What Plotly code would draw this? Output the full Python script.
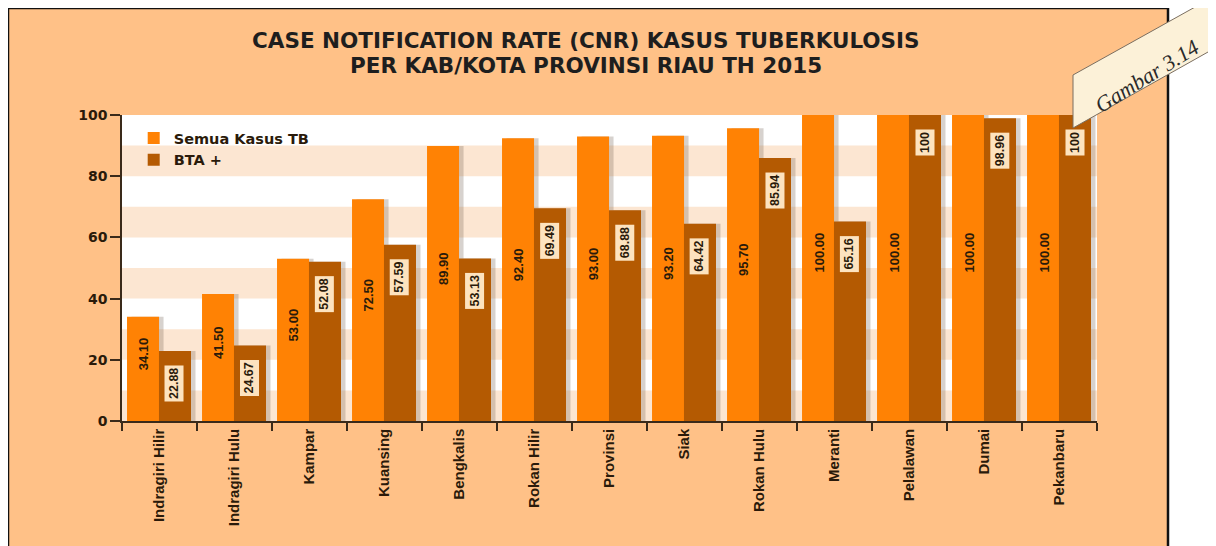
import plotly.graph_objects as go

categories = ["Indragiri Hilir", "Indragiri Hulu", "Kampar", "Kuansing", "Bengkalis",
              "Rokan Hilir", "Provinsi", "Siak", "Rokan Hulu", "Meranti",
              "Pelalawan", "Dumai", "Pekanbaru"]
semua = [34.10, 41.50, 53.00, 72.50, 89.90, 92.40, 93.00, 93.20, 95.70, 100.00, 100.00, 100.00, 100.00]
bta = [22.88, 24.67, 52.08, 57.59, 53.13, 69.49, 68.88, 64.42, 85.94, 65.16, 100, 98.96, 100]
semua_labels = ["%.2f" % v for v in semua]
bta_labels = ["22.88", "24.67", "52.08", "57.59", "53.13", "69.49", "68.88",
              "64.42", "85.94", "65.16", "100", "98.96", "100"]
y_ticks = [0, 20, 40, 60, 80, 100]
bands = [(0, 10), (20, 30), (40, 50), (60, 70), (80, 90)]
title_lines = ["CASE NOTIFICATION RATE (CNR) KASUS TUBERKULOSIS",
               "PER KAB/KOTA PROVINSI RIAU TH 2015"]

ORANGE = "#FF8204"
BROWN = "#B45A02"
PEACH = "#FFC187"
BAND = "#FCE6D2"
DARK = "#2A1A0A"
SHADOW = "rgba(110,95,80,0.28)"
FONT = "Liberation Sans"
WIDE = "DejaVu Sans"

# figure geometry (figure sits 8px inside the page)
W, H = 1208, 538
L, T = 114, 107
PW, PH = 975, 306
R = W - L - PW
B = H - T - PH


def px(rx):
    return (rx - 122) / PW


def py(ry):
    return (421 - ry) / PH


BW = 0.427
fig = go.Figure()
# soft shadows behind bars
fig.add_trace(go.Bar(x=categories, y=semua, offset=-0.433 + 0.06, width=BW,
                     marker_color=SHADOW, marker_line_width=0, showlegend=False,
                     hoverinfo="skip"))
fig.add_trace(go.Bar(x=categories, y=bta, offset=-0.007 + 0.06, width=BW,
                     marker_color=SHADOW, marker_line_width=0, showlegend=False,
                     hoverinfo="skip"))
fig.add_trace(go.Bar(name="Semua Kasus TB", x=categories, y=semua, offset=-0.433, width=BW,
                     marker_color=ORANGE, marker_line_width=0))
fig.add_trace(go.Bar(name="BTA +", x=categories, y=bta, offset=-0.007, width=BW,
                     marker_color=BROWN, marker_line_width=0))

shapes = []
shapes.append(dict(type="rect", xref="paper", yref="paper",
                   x0=px(8), x1=px(1168), y0=py(570), y1=py(8),
                   fillcolor=PEACH, line=dict(color="#111111", width=2.5), layer="below"))
shapes.append(dict(type="rect", xref="paper", yref="y", x0=0, x1=1, y0=0, y1=100,
                   fillcolor="white", line=dict(width=0), layer="below"))
for b0, b1 in bands:
    shapes.append(dict(type="rect", xref="paper", yref="y", x0=0, x1=1, y0=b0, y1=b1,
                       fillcolor=BAND, line=dict(width=0), layer="below"))
# "Gambar" ribbon
shapes.append(dict(type="path", xref="paper", yref="paper",
                   path="M %f %f L %f %f L %f %f L %f %f Z" % (
                       px(1073), py(75), px(1073), py(128),
                       px(1240), py(34), px(1240), py(-18)),
                   fillcolor="#FCF1D8", line=dict(color="#7A6E60", width=1), layer="above"))

annotations = []
for c, v, t in zip(categories, semua, semua_labels):
    annotations.append(dict(
        x=c, y=v / 2, xref="x", yref="y", text="<b>%s</b>" % t, showarrow=False,
        textangle=-90, xanchor="center", yanchor="middle", xshift=-16, yshift=15,
        font=dict(family=FONT, size=13, color=DARK),
    ))
for c, v, t in zip(categories, bta, bta_labels):
    annotations.append(dict(
        x=c, y=v, xref="x", yref="y", text="<b>%s</b>" % t, showarrow=False,
        textangle=-90, xanchor="center", yanchor="top", xshift=15, yshift=-14,
        bgcolor="#FDE3BF", borderpad=2,
        font=dict(family=FONT, size=12.5, color=DARK),
    ))
for i, (line, ry) in enumerate(zip(title_lines, [41, 66])):
    annotations.append(dict(
        xref="paper", yref="paper", x=px(586), y=py(ry), xanchor="center", yanchor="middle",
        text="<b>%s</b>" % line, showarrow=False,
        font=dict(family=WIDE, size=21.5, color="#1E1E1E"),
    ))
annotations.append(dict(
    xref="paper", yref="paper", x=px(1146), y=py(76), xanchor="center", yanchor="middle",
    text="<i>Gambar 3.14</i>", showarrow=False, textangle=-32,
    font=dict(family="Liberation Serif", size=22, color="#2A2A2A"),
))

fig.update_layout(
    width=W, height=H,
    margin=dict(l=L, r=R, t=T, b=B),
    paper_bgcolor="white", plot_bgcolor="rgba(0,0,0,0)",
    barmode="overlay",
    legend=dict(x=0.012, y=0.977, xanchor="left", yanchor="top",
                bgcolor="rgba(0,0,0,0)", traceorder="normal",
                font=dict(family=WIDE, size=14.5, color=DARK, weight="bold"),
                tracegroupgap=0),
    shapes=shapes, annotations=annotations,
    showlegend=True,
)
fig.update_xaxes(
    type="category", tickson="boundaries", ticks="outside", ticklen=8,
    tickcolor="#3A2A1A", tickwidth=1.5, showline=True, linecolor="#3A2A1A", linewidth=1.5,
    tickangle=-90, showgrid=False, range=[-0.5, 12.5],
    tickfont=dict(family=FONT, size=15, color=DARK, weight="bold"),
)
fig.update_yaxes(
    range=[0, 100], tickvals=y_ticks, ticks="outside", ticklen=10,
    tickcolor="#3A2A1A", tickwidth=1.5, showline=True, linecolor="#3A2A1A", linewidth=1.5,
    showgrid=False, zeroline=False,
    tickfont=dict(family=WIDE, size=14, color=DARK, weight="bold"),
)

fig.write_html("out.html")
